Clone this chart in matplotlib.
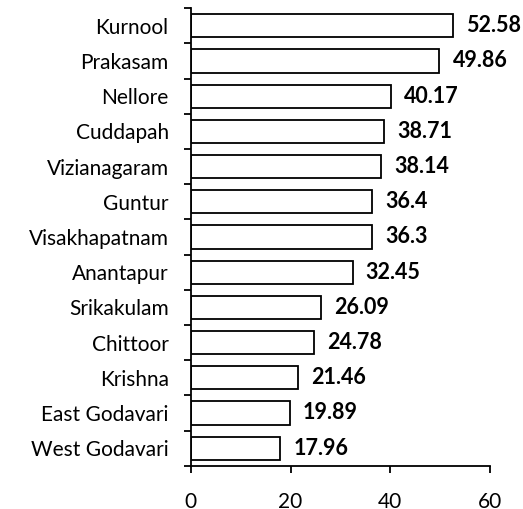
import numpy as np
import matplotlib.pyplot as plt

districts = ["Kurnool", "Prakasam", "Nellore", "Cuddapah", "Vizianagaram",
             "Guntur", "Visakhapatnam", "Anantapur", "Srikakulam", "Chittoor",
             "Krishna", "East Godavari", "West Godavari"]
values = [52.58, 49.86, 40.17, 38.71, 38.14, 36.4, 36.3, 32.45, 26.09,
          24.78, 21.46, 19.89, 17.96]
value_labels = ["52.58", "49.86", "40.17", "38.71", "38.14", "36.4", "36.3",
                "32.45", "26.09", "24.78", "21.46", "19.89", "17.96"]
x_ticks = [0, 20, 40, 60]

plt.rcParams['font.family'] = ['Lato', 'DejaVu Sans']

fig = plt.figure(figsize=(5.23, 5.09), dpi=100)
ax = fig.add_axes([0.365, 0.085, 0.572, 0.899])

y = np.arange(len(districts))
ax.barh(y, values, height=0.66, color='white', edgecolor='black', linewidth=1.3)

for yi, v, lab in zip(y, values, value_labels):
    ax.text(v + 2.6, yi, lab, va='center', ha='left', fontsize=15.5, fontweight='bold')

ax.set_xlim(0, 60)
ax.set_ylim(len(districts) - 0.5, -0.5)
ax.set_xticks(x_ticks)
ax.set_yticks(y)
ax.set_yticklabels(districts)
ax.set_yticks(np.arange(-0.5, len(districts)), minor=True)

ax.tick_params(axis='y', which='major', length=0, pad=16, labelsize=15)
ax.tick_params(axis='y', which='minor', length=5, width=1.3, direction='out')
ax.tick_params(axis='x', length=5, width=1.3, direction='out', pad=14, labelsize=15)

for side in ['top', 'right']:
    ax.spines[side].set_visible(False)
for side in ['left', 'bottom']:
    ax.spines[side].set_linewidth(1.3)

fig.savefig('out.png', dpi=100)
